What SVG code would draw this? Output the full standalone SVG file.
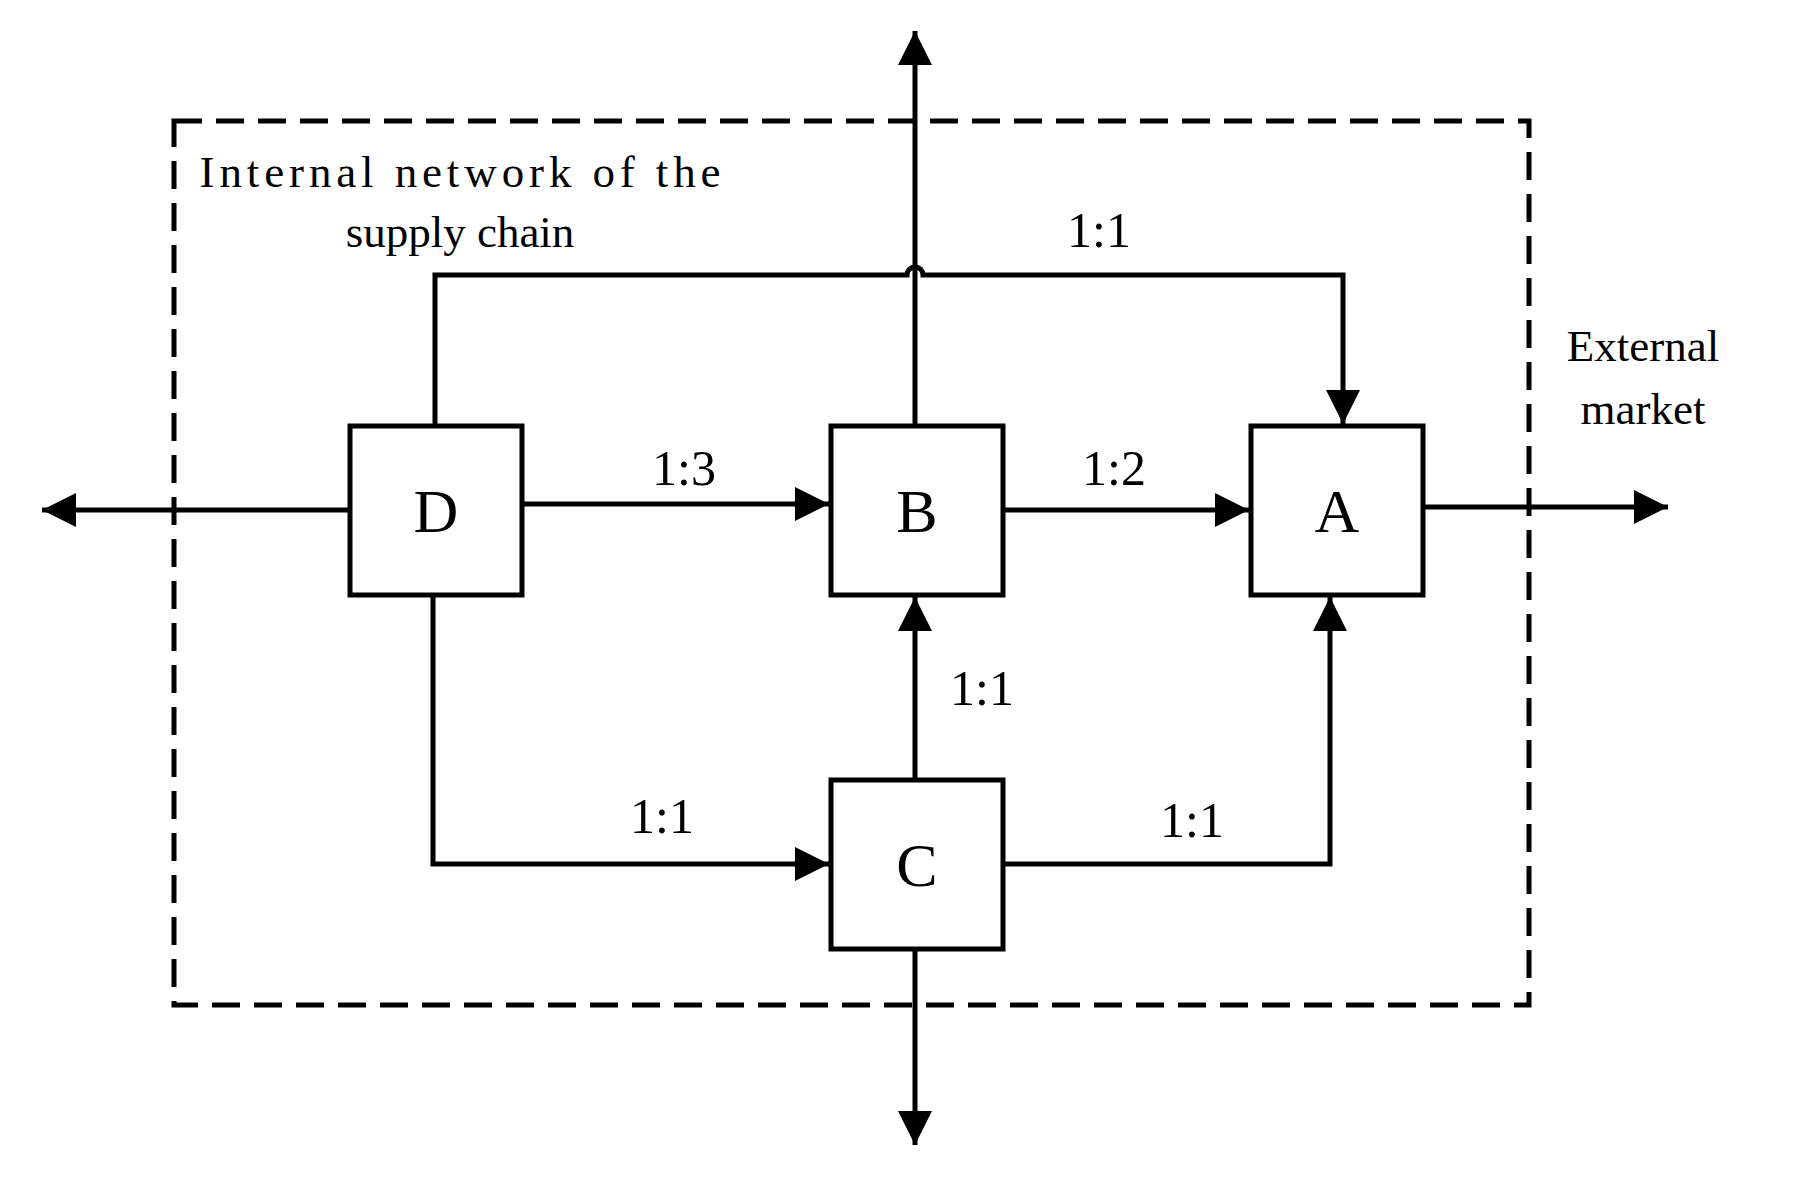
<svg xmlns="http://www.w3.org/2000/svg" width="1795" height="1184" viewBox="0 0 1795 1184">
<style>
.ln{fill:none;stroke:#000;stroke-width:5}
.bx{fill:#fff;stroke:#000;stroke-width:5}
.nt{font-family:"Liberation Serif",serif;font-size:62px;text-anchor:middle}
.lb{font-family:"Liberation Serif",serif;font-size:50px;text-anchor:middle}
.tx{font-family:"Liberation Serif",serif;font-size:45px;text-anchor:middle}
</style>
<defs>
<marker id="ah" markerUnits="userSpaceOnUse" markerWidth="36" markerHeight="34" refX="34" refY="17" orient="auto">
<path d="M0,0 L34,17 L0,34 Z" fill="#000"/>
</marker>
</defs>
<rect x="174" y="121" width="1355" height="884" fill="none" stroke="#000" stroke-width="5" stroke-dasharray="28 14"/>
<g id="connectors">
<path class="ln" d="M350,510 H42" marker-end="url(#ah)"/>
<path class="ln" d="M1423,507 H1668" marker-end="url(#ah)"/>
<path class="ln" d="M915,426 V31" marker-end="url(#ah)"/>
<path class="ln" d="M915,949 V1145" marker-end="url(#ah)"/>
<path class="ln" d="M435,426 V275 H907 A8,8 0 0 1 923,275 H1343 V424" marker-end="url(#ah)"/>
<path class="ln" d="M522,504 H829" marker-end="url(#ah)"/>
<path class="ln" d="M1003,510 H1249" marker-end="url(#ah)"/>
<path class="ln" d="M915,780 V597" marker-end="url(#ah)"/>
<path class="ln" d="M433,595 V864 H829" marker-end="url(#ah)"/>
<path class="ln" d="M1003,864 H1330 V597" marker-end="url(#ah)"/>
</g>
<text class="lb" x="1099" y="247">1:1</text>
<text class="lb" x="684" y="485">1:3</text>
<text class="lb" x="1114" y="485">1:2</text>
<text class="lb" x="982" y="705">1:1</text>
<text class="lb" x="662" y="833">1:1</text>
<text class="lb" x="1192" y="837">1:1</text>
<text class="tx" x="460" y="187" textLength="521">Internal network of the</text>
<text class="tx" x="460" y="247">supply chain</text>
<text class="tx" x="1643" y="361">External</text>
<text class="tx" x="1643" y="424">market</text>
<g id="D"><rect class="bx" x="350" y="426" width="172" height="169"/><text class="nt" x="436" y="532">D</text></g>
<g id="B"><rect class="bx" x="831" y="426" width="172" height="169"/><text class="nt" x="917" y="532">B</text></g>
<g id="A"><rect class="bx" x="1251" y="426" width="172" height="169"/><text class="nt" x="1337" y="532">A</text></g>
<g id="C"><rect class="bx" x="831" y="780" width="172" height="169"/><text class="nt" x="917" y="886">C</text></g>
</svg>
